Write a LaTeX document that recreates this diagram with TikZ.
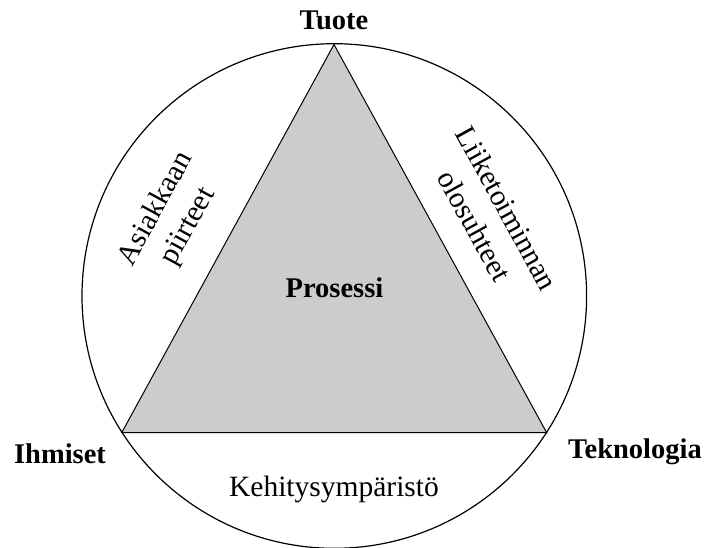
\documentclass[tikz,border=0pt]{standalone}
\usepackage{fontspec}
\setmainfont{Liberation Serif}
\begin{document}
\begin{tikzpicture}[x=1pt,y=-1pt,
  txt/.style={font=\fontsize{29.5}{37}\selectfont, align=center, inner sep=0pt},
  corner/.style={txt, font=\fontsize{28.5}{33}\selectfont\bfseries},
  edge/.style={line width=1pt, line join=miter},
]
\useasboundingbox (0,0) rectangle (707,547);
\clip (0,0) rectangle (707,547);

% centre of the ring and the corners of the triangle
\coordinate (O) at (334.3,296);
\coordinate (top) at (334,44.5);
\coordinate (left) at (121.7,432.7);
\coordinate (right) at (546.7,432.7);

% triangle and surrounding ring
\filldraw[edge, fill=black!20] (top) -- (left) -- (right) -- cycle;
\draw[line width=1.2pt] (O) circle[radius=252.3];

% corner labels
\node[corner, anchor=base] (tuote) at (334,29) {Tuote};
\node[corner, anchor=base] (ihmiset) at (60,463) {Ihmiset};
\node[corner, anchor=base] (teknologia) at (635,458) {Teknologia};

% centre label
\node[corner, anchor=base] (prosessi) at (334.5,297) {Prosessi};

% segment labels
\node[txt, rotate=61.3] (asiakas) at (172.5,218) {Asiakkaan\\piirteet};
\node[txt, rotate=-61.3] (liiketoiminta) at (491,217) {Liiketoiminnan\\olosuhteet};
\node[txt, anchor=base] (ymparisto) at (334,496) {Kehitysympäristö};
\end{tikzpicture}
\end{document}
